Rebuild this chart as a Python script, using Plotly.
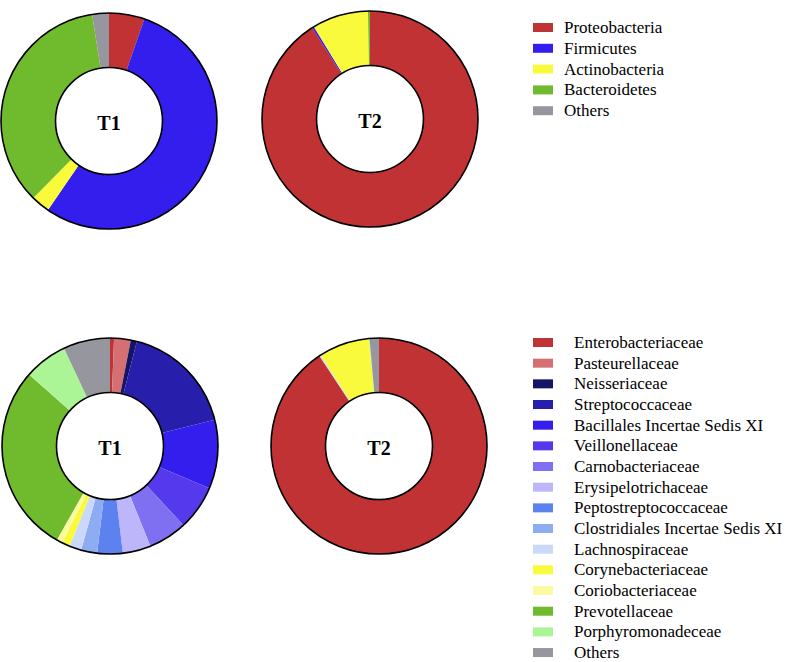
import plotly.graph_objects as go

# ---------------- data ----------------
phyla = ["Proteobacteria", "Firmicutes", "Actinobacteria", "Bacteroidetes", "Others"]
phylum_colors = ["rgb(192,50,52)", "rgb(52,30,238)", "rgb(250,250,60)",
                 "rgb(112,186,46)", "rgb(150,150,158)"]
phylum_t1 = [5.3, 54.2, 2.8, 35.1, 2.5]
phylum_t2 = [91.0, 0.3, 8.4, 0.3, 0.0]

families = ["Enterobacteriaceae", "Pasteurellaceae", "Neisseriaceae", "Streptococcaceae",
            "Bacillales Incertae Sedis XI", "Veillonellaceae", "Carnobacteriaceae",
            "Erysipelotrichaceae", "Peptostreptococcaceae", "Clostridiales Incertae Sedis XI",
            "Lachnospiraceae", "Corynebacteriaceae", "Coriobacteriaceae", "Prevotellaceae",
            "Porphyromonadeceae", "Others"]
family_colors = ["rgb(192,50,52)", "rgb(212,112,116)", "rgb(22,20,100)", "rgb(40,30,172)",
                 "rgb(52,30,238)", "rgb(84,58,236)", "rgb(126,112,240)", "rgb(190,182,250)",
                 "rgb(92,130,240)", "rgb(142,172,242)", "rgb(202,216,250)", "rgb(250,250,60)",
                 "rgb(250,250,160)", "rgb(112,186,46)", "rgb(172,245,150)", "rgb(150,150,158)"]
family_t1 = [0.6, 2.5, 0.9, 17.1, 10.3, 6.7, 5.8, 4.2, 3.8, 2.4, 1.8, 1.2, 0.9, 28.3, 6.5, 7.0]
family_t2 = [90.8, 0, 0, 0, 0, 0, 0, 0, 0, 0, 0.2, 7.6, 0, 0, 0.1, 1.4]

# ---------------- layout helpers ----------------
W, H = 787, 662
HOLE = 0.495
FONT = "Liberation Serif"


def px(x):
    return x / W


def py(y):
    return 1 - y / H


def dom(cx, cy, r):
    return dict(x=[px(cx - r), px(cx + r)], y=[py(cy + r), py(cy - r)])


fig = go.Figure()

panels = [
    (phyla, phylum_t1, phylum_colors, "T1", dom(109, 121, 108)),
    (phyla, phylum_t2, phylum_colors, "T2", dom(370, 119, 108)),
    (families, family_t1, family_colors, "T1", dom(110, 446, 108)),
    (families, family_t2, family_colors, "T2", dom(379, 446, 108)),
]

for labels, vals, cols, title, d in panels:
    fig.add_trace(go.Pie(
        labels=labels, values=vals, marker=dict(colors=cols, line=dict(width=0)),
        hole=HOLE, sort=False, direction="clockwise", rotation=0,
        textinfo="none", domain=d, showlegend=False,
        title=dict(text="<b>" + title + "</b>", position="middle center",
                   font=dict(family=FONT, size=20, color="black")),
    ))
    # black outline rings (outer and inner circle)
    fig.add_trace(go.Pie(
        labels=[" "], values=[1], hole=HOLE, sort=False, textinfo="none",
        marker=dict(colors=["rgba(0,0,0,0)"], line=dict(color="black", width=1.6)),
        domain=d, showlegend=False, hoverinfo="skip",
    ))

# ---------------- legends (swatch + text) ----------------
shapes, annotations = [], []
legend_specs = [
    (phyla, phylum_colors, 27.5, 20.8, 562),
    (families, family_colors, 342.5, 20.67, 572),
]
for labels, cols, y0, step, tx in legend_specs:
    for i, (lab, col) in enumerate(zip(labels, cols)):
        yc = y0 + i * step
        shapes.append(dict(type="rect", xref="paper", yref="paper",
                           x0=px(533), x1=px(553), y0=py(yc + 4.5), y1=py(yc - 4.5),
                           fillcolor=col, line=dict(width=0)))
        annotations.append(dict(xref="paper", yref="paper", x=px(tx), y=py(yc),
                                xanchor="left", yanchor="middle", showarrow=False,
                                text=lab, font=dict(family=FONT, size=17, color="black")))

fig.update_layout(
    width=W, height=H,
    margin=dict(l=0, r=0, t=0, b=0),
    paper_bgcolor="white",
    plot_bgcolor="white",
    showlegend=False,
    shapes=shapes,
    annotations=annotations,
)

fig.write_html("out.html", config={"displayModeBar": False},
               post_script="document.body.style.margin='0';")
